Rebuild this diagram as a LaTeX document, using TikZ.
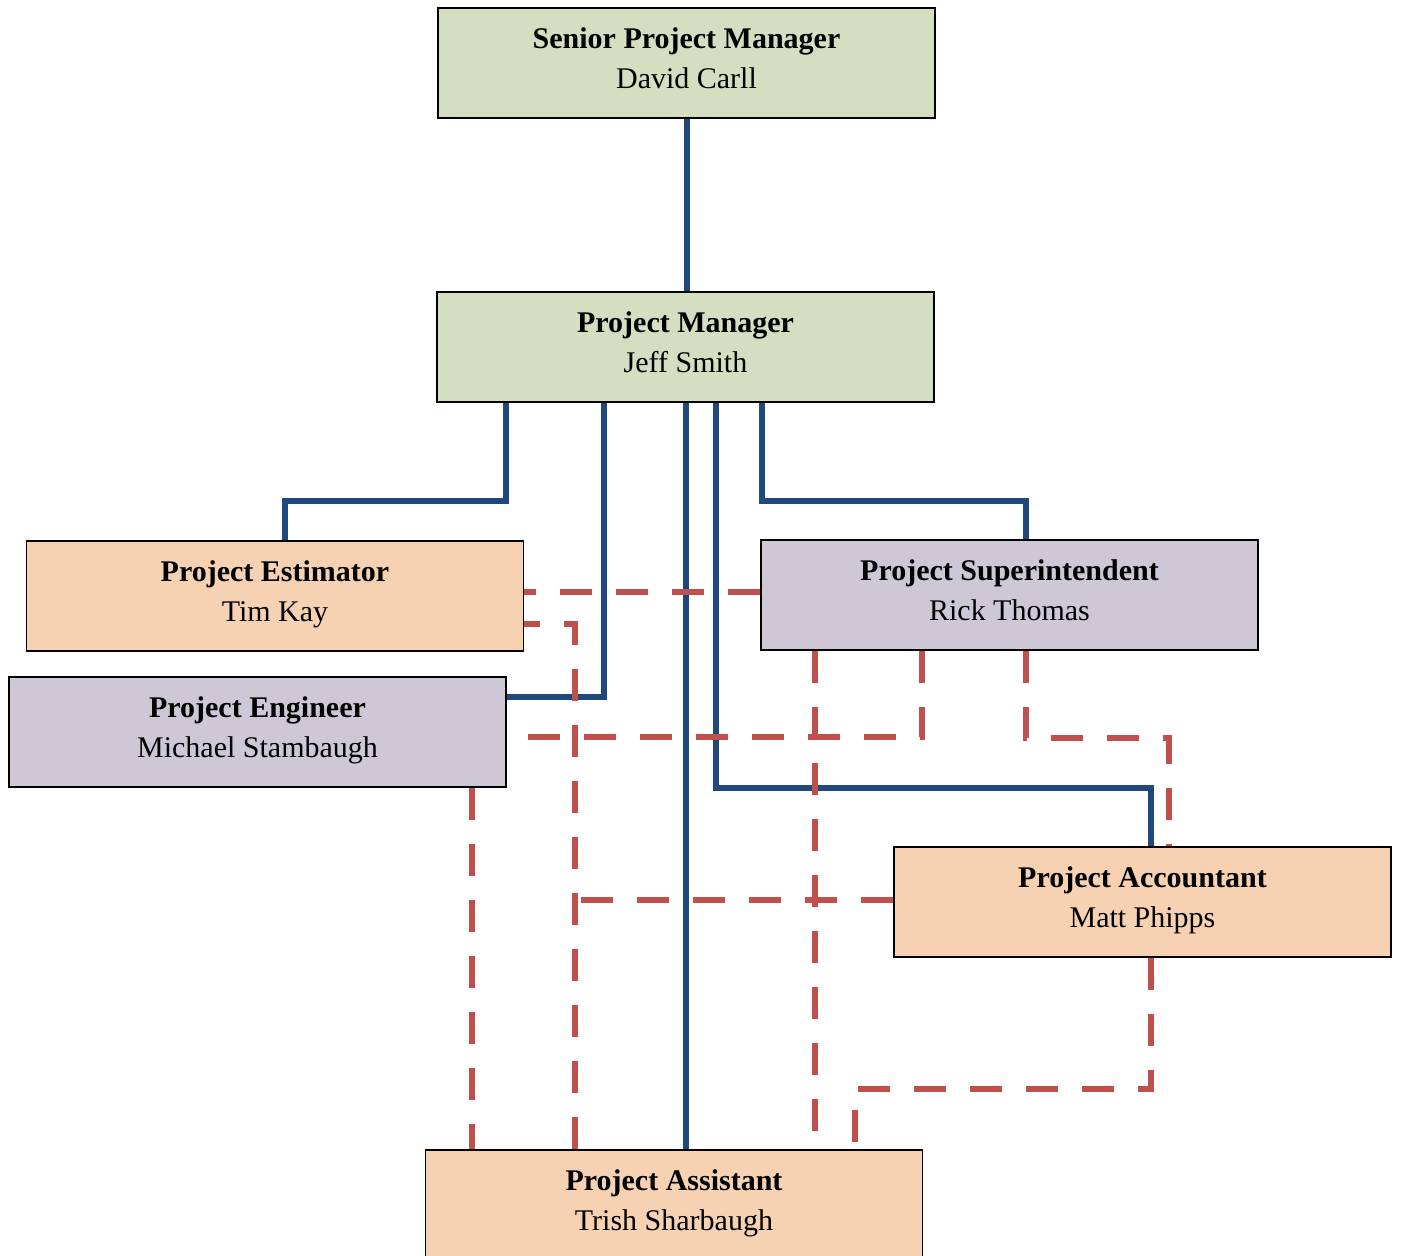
\documentclass[tikz,border=0pt]{standalone}
\usepackage{fontspec}
\setmainfont{Liberation Serif}
\definecolor{boxgreen}{RGB}{214,222,194}
\definecolor{boxorange}{RGB}{246,209,178}
\definecolor{boxlilac}{RGB}{205,199,214}
\definecolor{linkblue}{RGB}{31,73,125}
\definecolor{linkred}{RGB}{192,80,77}
\begin{document}
\begin{tikzpicture}[x=1pt,y=-1pt,
  orgbox/.style={draw=black, line width=1.5pt, minimum width=497pt, minimum height=110pt,
    inner sep=0pt, align=center, text depth=10pt, font=\fontsize{30}{40}\selectfont},
  bluelink/.style={draw=linkblue, line width=6pt},
  redlink/.style={draw=linkred, line width=6pt, dash pattern=on 32pt off 24pt}]
\useasboundingbox (0,0) rectangle (1401,1256);

\node[orgbox, fill=boxgreen]  (spm)  at (686.5,63)  {\textbf{Senior Project Manager}\\David Carll};
\node[orgbox, fill=boxgreen]  (pm)   at (685.5,347) {\textbf{Project Manager}\\Jeff Smith};
\node[orgbox, fill=boxorange] (est)  at (275,596)   {\textbf{Project Estimator}\\Tim Kay};
\node[orgbox, fill=boxlilac]  (sup)  at (1009.5,595){\textbf{Project Superintendent}\\Rick Thomas};
\node[orgbox, fill=boxlilac]  (eng)  at (257.5,732) {\textbf{Project Engineer}\\Michael Stambaugh};
\node[orgbox, fill=boxorange] (acc)  at (1142.5,902){\textbf{Project Accountant}\\Matt Phipps};
\node[orgbox, fill=boxorange] (asst) at (674,1205)  {\textbf{Project Assistant}\\Trish Sharbaugh};

% solid reporting lines
\draw[bluelink] (spm.south) -- (spm.south |- pm.north);
\draw[bluelink] ([xshift=-179.5pt]pm.south) -- ++(0,98) -| ([xshift=10pt]est.north);
\draw[bluelink] ([xshift=-81.5pt]pm.south) |- ([yshift=35pt]eng.east);
\draw[bluelink] (pm.south) -- (pm.south |- asst.north);
\draw[bluelink] ([xshift=30.5pt]pm.south) -- ++(0,385) -| ([xshift=8.5pt]acc.north);
\draw[bluelink] ([xshift=76.5pt]pm.south) -- ++(0,98) -| ([xshift=16.5pt]sup.north);

% dashed lines
\coordinate (pa) at ([xshift=-99pt]asst.north);
\coordinate (accw) at ([yshift=2pt]acc.west);
\draw[redlink] ([yshift=3pt]sup.west) -- ([yshift=3pt]sup.west -| est.east);
\draw[redlink] (pa) |- ([yshift=-28pt]est.east);
\draw[redlink] ([xshift=214.5pt]eng.south) -- ([xshift=214.5pt]eng.south |- asst.north);
\draw[redlink] ([xshift=-87.5pt]sup.south) |- ([yshift=-5pt]eng.east);
\draw[redlink] ([xshift=-194.5pt]sup.south) -- ([xshift=-194.5pt]sup.south |- asst.north);
\draw[redlink] ([xshift=16.5pt]sup.south) -- ++(0,87) -| ([xshift=26.5pt]acc.north);
\draw[redlink] (accw) -- (accw -| pa);
\draw[redlink] ([xshift=8.5pt]acc.south) -- ++(0,131) -| ([xshift=181pt]asst.north);
\end{tikzpicture}
\end{document}
